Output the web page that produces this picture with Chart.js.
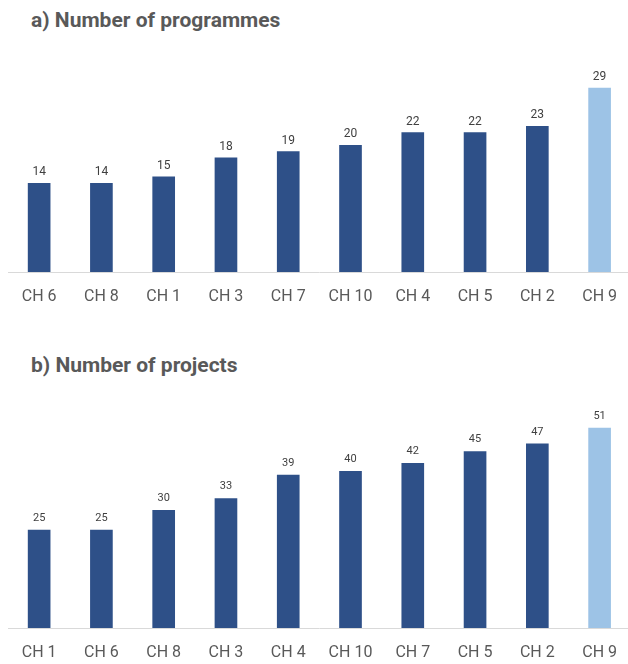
<!DOCTYPE html>
<html>
<head>
<meta charset="utf-8">
<script src="https://cdn.jsdelivr.net/npm/chart.js@4"></script>
<style>
  html, body { margin: 0; padding: 0; background: #fff; width: 628px; height: 664px; overflow: hidden; position: relative; }
  .titulo { position: absolute; left: 31px; font-family: Roboto, sans-serif; font-weight: bold; font-size: 21px; line-height: 26px; color: #595959; margin: 0; }
  .caixa { position: absolute; left: 0; width: 632px; }
</style>
</head>
<body>
<div class="titulo" style="top:7px">a) Number of programmes</div>
<div class="caixa" style="top:40px;height:265px"><canvas id="chartA"></canvas></div>
<div class="titulo" style="top:352px">b) Number of projects</div>
<div class="caixa" style="top:385px;height:279px"><canvas id="chartB"></canvas></div>
<script>
// a) programmes
const categoriasA = ["CH 6", "CH 8", "CH 1", "CH 3", "CH 7", "CH 10", "CH 4", "CH 5", "CH 2", "CH 9"];
const valoresA = [14, 14, 15, 18, 19, 20, 22, 22, 23, 29];

// b) projects
const categoriasB = ["CH 1", "CH 6", "CH 8", "CH 3", "CH 4", "CH 10", "CH 7", "CH 5", "CH 2", "CH 9"];
const valoresB = [25, 25, 30, 33, 39, 40, 42, 45, 47, 51];

const azulEscuro = "#2E5088";
const azulClaro = "#9DC3E6";

// escreve o valor acima de cada barra
const rotulosPlugin = {
  id: "rotulos",
  afterDatasetsDraw(chart, args, opts) {
    const c = chart.ctx;
    const meta = chart.getDatasetMeta(0);
    c.save();
    c.font = opts.font;
    c.fillStyle = "#404040";
    c.textAlign = "center";
    c.textBaseline = "middle";
    meta.data.forEach((bar, i) => {
      c.fillText(chart.data.datasets[0].data[i], bar.x, bar.y - opts.offset);
    });
    c.restore();
  }
};

function criarGrafico(id, labels, dados, maxY, alturaEixo, fonteRotulo, offset) {
  return new Chart(document.getElementById(id), {
    type: "bar",
    data: {
      labels: labels,
      datasets: [{
        data: dados,
        backgroundColor: dados.map((v, i) => i === dados.length - 1 ? azulClaro : azulEscuro),
        barThickness: 22
      }]
    },
    options: {
      responsive: true,
      maintainAspectRatio: false,
      animation: false,
      layout: { padding: { left: 8, right: 0, top: 0, bottom: 0 } },
      scales: {
        x: {
          grid: { display: false, drawTicks: false },
          border: { display: true, color: "#D9D9D9", width: 1 },
          ticks: { color: "#595959", font: { family: "Roboto", size: 16 }, padding: 15 },
          afterFit: (s) => { s.height = alturaEixo; }
        },
        y: { display: false, min: 0, max: maxY }
      },
      plugins: {
        legend: { display: false },
        tooltip: { enabled: false },
        rotulos: { font: fonteRotulo, offset: offset }
      }
    },
    plugins: [rotulosPlugin]
  });
}

criarGrafico("chartA", categoriasA, valoresA, 36.6, 33, "12px Roboto", 11);
criarGrafico("chartB", categoriasB, valoresB, 62, 36, "11px Roboto", 12);
</script>
</body>
</html>
